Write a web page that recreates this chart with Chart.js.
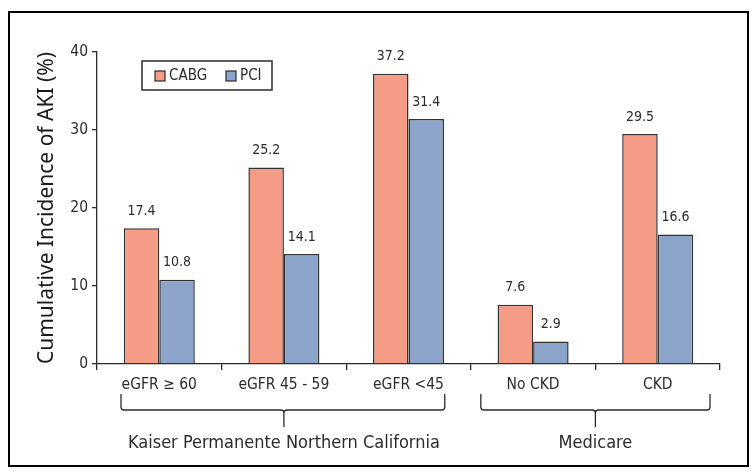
<!DOCTYPE html>
<html>
<head>
<meta charset="utf-8">
<script src="https://cdn.jsdelivr.net/npm/chart.js@4/dist/chart.umd.min.js"></script>
<style>
  html, body { margin: 0; padding: 0; background: #fff; }
  #wrap { width: 755px; height: 471px; }
</style>
</head>
<body>
<div id="wrap"><canvas id="chart" width="755" height="471"></canvas></div>
<script>
// data
const categories = ['eGFR \u2265 60', 'eGFR 45 - 59', 'eGFR <45', 'No CKD', 'CKD'];
const cabg = [17.4, 25.2, 37.2, 7.6, 29.5];
const pci = [10.8, 14.1, 31.4, 2.9, 16.6];
const groups = [
  { label: 'Kaiser Permanente Northern California', first: 0, last: 2 },
  { label: 'Medicare', first: 3, last: 4 }
];
const yTicks = [0, 10, 20, 30, 40];

const FONT = '"DejaVu Sans Condensed", "Liberation Sans Narrow", sans-serif';
const TITLE_FONT = '"Noto Sans", "Open Sans", sans-serif';
const INK = '#2b2b2b';

// frame round the whole figure
const framePlugin = {
  id: 'frame',
  afterDraw(chart) {
    const ctx = chart.ctx;
    ctx.save();
    ctx.strokeStyle = '#000';
    ctx.lineWidth = 2;
    ctx.strokeRect(9, 12, 739, 454);
    ctx.restore();
  }
};

// numbers above the bars
const valueLabels = {
  id: 'valueLabels',
  afterDatasetsDraw(chart) {
    const ctx = chart.ctx;
    ctx.save();
    ctx.font = '14px ' + FONT;
    ctx.fillStyle = INK;
    ctx.textAlign = 'center';
    ctx.textBaseline = 'middle';
    chart.data.datasets.forEach((ds, i) => {
      chart.getDatasetMeta(i).data.forEach((bar, j) => {
        ctx.fillText(ds.data[j].toFixed(1), bar.x, bar.y - 17);
      });
    });
    ctx.restore();
  }
};

// boxed legend inside the plot
const boxLegend = {
  id: 'boxLegend',
  afterDraw(chart) {
    const ctx = chart.ctx;
    const a = chart.chartArea;
    const x0 = a.left + 45, y0 = a.top + 9, w = 130, h = 29;
    ctx.save();
    ctx.strokeStyle = INK;
    ctx.lineWidth = 1.5;
    ctx.strokeRect(x0, y0, w, h);
    ctx.font = '15px ' + FONT;
    ctx.textBaseline = 'middle';
    ctx.fillStyle = INK;
    let x = x0 + 13;
    chart.data.datasets.forEach(ds => {
      ctx.fillStyle = ds.backgroundColor;
      ctx.fillRect(x, y0 + 10, 10, 10);
      ctx.strokeStyle = INK;
      ctx.lineWidth = 1.2;
      ctx.strokeRect(x, y0 + 10, 10, 10);
      ctx.fillStyle = INK;
      ctx.fillText(ds.label, x + 14, y0 + 15.5);
      x += 71;
    });
    ctx.restore();
  }
};

// brackets and group names under the categories
const groupBrackets = {
  id: 'groupBrackets',
  afterDraw(chart) {
    const ctx = chart.ctx;
    const xs = chart.scales.x;
    const half = (xs.getPixelForValue(1) - xs.getPixelForValue(0)) / 2;
    ctx.save();
    ctx.strokeStyle = INK;
    ctx.lineWidth = 1.3;
    ctx.fillStyle = INK;
    ctx.font = '18px ' + FONT;
    ctx.textAlign = 'center';
    ctx.textBaseline = 'middle';
    groups.forEach((g, k) => {
      const inset = k === 0 ? 24 : 10;
      const l = xs.getPixelForValue(g.first) - half + inset;
      const r = xs.getPixelForValue(g.last) + half - inset - (k === 0 ? 2 : 0);
      const c = (xs.getPixelForValue(g.first) - half + xs.getPixelForValue(g.last) + half) / 2;
      const top = 394, mid = 410, bot = 427, rr = 3;
      ctx.beginPath();
      ctx.moveTo(l, top);
      ctx.lineTo(l, mid - rr);
      ctx.quadraticCurveTo(l, mid, l + rr, mid);
      ctx.lineTo(c - rr, mid);
      ctx.quadraticCurveTo(c, mid, c, mid + rr);
      ctx.lineTo(c, bot);
      ctx.moveTo(c, mid + rr);
      ctx.quadraticCurveTo(c, mid, c + rr, mid);
      ctx.lineTo(r - rr, mid);
      ctx.quadraticCurveTo(r, mid, r, mid - rr);
      ctx.lineTo(r, top);
      ctx.stroke();
      ctx.fillText(g.label, c, 443);
    });
    ctx.restore();
  }
};

new Chart(document.getElementById('chart'), {
  type: 'bar',
  data: {
    labels: categories,
    datasets: [
      { label: 'CABG', data: cabg, backgroundColor: '#F49C86', borderColor: '#333', borderWidth: 1.5 },
      { label: 'PCI', data: pci, backgroundColor: '#8CA3CA', borderColor: '#333', borderWidth: 1.5 }
    ]
  },
  options: {
    responsive: false,
    animation: false,
    devicePixelRatio: 1,
    layout: { padding: { left: 0, right: 35, top: 52, bottom: 0 } },
    datasets: { bar: { categoryPercentage: 0.57, barPercentage: 1.0 } },
    scales: {
      x: {
        grid: { offset: true, drawOnChartArea: false, tickLength: 6, color: INK, lineWidth: 1.3 },
        border: { color: INK, width: 1.3 },
        ticks: { color: INK, font: { family: FONT, size: 15.5 }, padding: 6, maxRotation: 0 },
        afterFit(s) { s.height = 107; }
      },
      y: {
        min: 0,
        max: 40,
        afterBuildTicks(s) { s.ticks = yTicks.map(v => ({ value: v })); },
        grid: { drawOnChartArea: false, tickLength: 5, color: INK, lineWidth: 1.3 },
        border: { color: INK, width: 1.3 },
        ticks: { color: INK, font: { family: FONT, size: 15.5 }, padding: 4 },
        title: {
          display: true,
          text: 'Cumulative Incidence of AKI (%)',
          color: '#1a1a1a',
          font: { family: TITLE_FONT, size: 21, weight: 'normal' },
          padding: { top: 34, bottom: 0 }
        },
        afterFit(s) { s.width = 97; }
      }
    },
    plugins: {
      legend: { display: false },
      tooltip: { enabled: false }
    }
  },
  plugins: [framePlugin, valueLabels, boxLegend, groupBrackets]
});
</script>
</body>
</html>
